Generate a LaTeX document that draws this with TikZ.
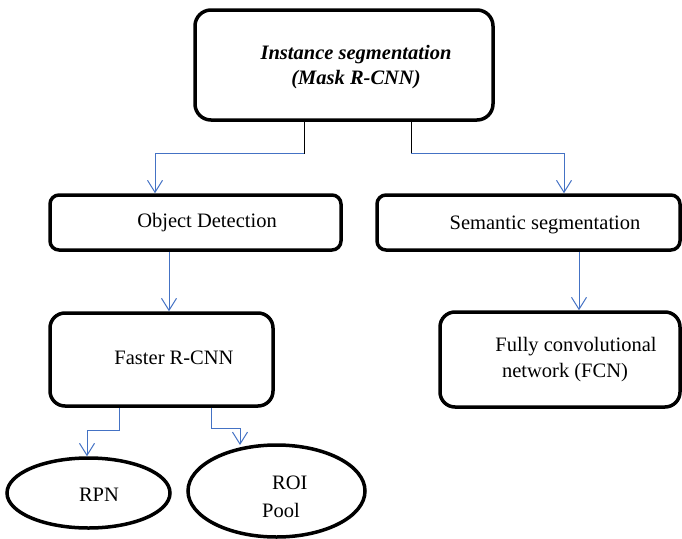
\documentclass[tikz,border=0pt]{standalone}
\usepackage{fontspec}
\setmainfont{Liberation Serif}
\usetikzlibrary{arrows.meta,shapes.geometric}
\definecolor{linkblue}{RGB}{68,114,196}
\tikzset{
  box/.style={draw=black, line width=3.5pt, rectangle, inner sep=0pt},
  oval/.style={draw=black, line width=3.5pt, ellipse, inner sep=0pt},
  lbl/.style={inner sep=0pt, font=\fontsize{20.5}{25}\selectfont, align=center},
  stem/.style={draw=black, line width=1pt},
  flow/.style={draw=linkblue, line width=1pt,
    -{Straight Barb[length=12pt,width=15pt,line width=1pt]}},
  link/.style={draw=linkblue, line width=1pt},
}
\begin{document}
\begin{tikzpicture}[x=1pt,y=-1pt]
\useasboundingbox (0,0) rectangle (682,538);

% boxes
\node[box, rounded corners=16pt, minimum width=298pt, minimum height=110pt] (top) at (344,65) {};
\node[box, rounded corners=9pt, minimum width=291pt, minimum height=55pt] (obj) at (195.5,222.5) {};
\node[box, rounded corners=9pt, minimum width=303pt, minimum height=55pt] (sem) at (528.5,222.5) {};
\node[box, rounded corners=15pt, minimum width=223pt, minimum height=93pt] (frcnn) at (161.5,359.5) {};
\node[box, rounded corners=15pt, minimum width=240pt, minimum height=95pt] (fcn) at (560,359.5) {};
\node[oval, minimum width=163pt, minimum height=70pt] (rpn) at (88.5,493) {};
\node[oval, minimum width=177pt, minimum height=92pt] (roi) at (276.5,491) {};

% labels
\node[lbl, font=\fontsize{20.5}{25}\selectfont\bfseries\itshape] (toptext) at (356,67) {Instance segmentation\\(Mask R-CNN)};
\node[lbl] (objtext) at (207,223) {Object Detection};
\node[lbl] (semtext) at (545,225) {Semantic segmentation};
\node[lbl] (frcnntext) at (174,358) {Faster R-CNN};
\node[lbl, align=left] (fcntext1) at (576,347) {Fully convolutional};
\node[lbl] (fcntext2) at (565,373) {network (FCN)};
\node[lbl] (rpntext) at (99,495) {RPN};
\node[lbl, anchor=west] (roitext1) at (272,483) {ROI};
\node[lbl, anchor=west] (roitext2) at (262,510) {Pool};

% connectors
\draw[stem] ([xshift=-40pt]top.south) -- ++(0,32) coordinate (jl);
\draw[flow] (jl) -| ([xshift=-40.5pt]obj.north);
\draw[stem] ([xshift=67pt]top.south) -- ++(0,32) coordinate (jr);
\draw[flow] (jr) -| ([xshift=35.5pt]sem.north);
\draw[flow] ([xshift=-26.5pt]obj.south) -- ([xshift=7.5pt]frcnn.north);
\draw[flow] ([xshift=50.5pt]sem.south) -- ([xshift=19pt]fcn.north);
\draw[link] ([xshift=-42.5pt]frcnn.south) -- ++(0,23) coordinate (kl);
\draw[flow] (kl) -| ([xshift=-1.5pt]rpn.north);
\coordinate (roiin) at (240,445);
\draw[link] ([xshift=49.5pt]frcnn.south) -- ++(0,21) coordinate (kr);
\draw[flow] (kr) -| (roiin);
\end{tikzpicture}
\end{document}
